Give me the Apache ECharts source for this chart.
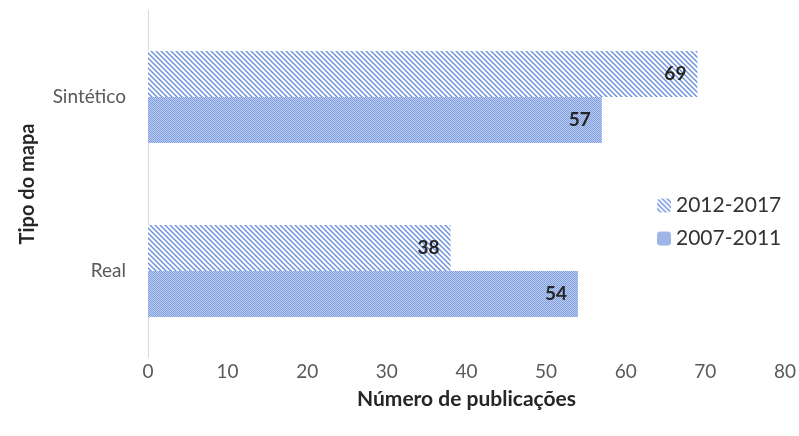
<!DOCTYPE html>
<html>
<head>
<meta charset="utf-8">
<script src="https://cdn.jsdelivr.net/npm/echarts@6/dist/echarts.min.js"></script>
<style>
  html, body { margin: 0; padding: 0; background: #fff; }
  #chart { width: 799px; height: 436px; }
</style>
</head>
<body>
<div id="chart"></div>
<script>
const categories = ['Real', 'Sintético']
const seriesNames = ['2012-2017', '2007-2011']
const values2012 = [38, 69]
const values2007 = [54, 57]
const xTicks = [0, 10, 20, 30, 40, 50, 60, 70, 80]

// hatched fill: diagonal stripes
const makeStripes = () => {
  const c = document.createElement('canvas')
  c.width = 5; c.height = 5
  const ctx = c.getContext('2d')
  ctx.fillStyle = '#ffffff'
  ctx.fillRect(0, 0, 5, 5)
  ctx.strokeStyle = '#6a8fdc'
  ctx.lineWidth = 1.4
  ctx.beginPath()
  ctx.moveTo(-1, -1); ctx.lineTo(6, 6)
  ctx.moveTo(-4, 1); ctx.lineTo(4, 9)
  ctx.moveTo(1, -4); ctx.lineTo(9, 4)
  ctx.stroke()
  return c
}

// dotted fill
const makeDots = () => {
  const c = document.createElement('canvas')
  c.width = 2; c.height = 2
  const ctx = c.getContext('2d')
  ctx.fillStyle = '#bccdf0'
  ctx.fillRect(0, 0, 2, 2)
  ctx.fillStyle = '#7f9edf'
  ctx.fillRect(0, 0, 1, 1)
  ctx.fillRect(1, 1, 1, 1)
  return c
}

const font = 'Lato, "Open Sans", sans-serif'
const chart = echarts.init(document.getElementById('chart'))

const labelOpt = {
  show: true,
  position: 'insideRight',
  distance: 11,
  color: '#262626',
  fontSize: 19,
  fontWeight: 'bold',
  fontFamily: font
}

chart.setOption({
  animation: false,
  textStyle: { fontFamily: font },
  grid: { left: 148, right: 14, top: 10, bottom: 78 },
  legend: {
    orient: 'vertical',
    left: 652,
    top: 190,
    itemWidth: 14,
    itemHeight: 14,
    itemGap: 12,
    data: seriesNames,
    textStyle: { fontSize: 21, color: '#333333', fontFamily: font }
  },
  xAxis: {
    type: 'value',
    min: xTicks[0],
    max: xTicks[xTicks.length - 1],
    interval: 10,
    name: 'Número de publicações',
    nameLocation: 'middle',
    nameGap: 31,
    nameTextStyle: { fontSize: 21, fontWeight: 'bold', color: '#262626' },
    axisLine: { show: false },
    axisTick: { show: false },
    splitLine: { show: false },
    axisLabel: { fontSize: 19, color: '#595959', margin: 4 }
  },
  yAxis: {
    type: 'category',
    data: categories,
    name: 'Tipo do mapa',
    nameLocation: 'middle',
    nameGap: 110,
    nameRotate: 90,
    nameTextStyle: { fontSize: 20, fontWeight: 'bold', color: '#262626' },
    axisLine: { show: true, lineStyle: { color: '#d9d9d9', width: 1 } },
    axisTick: { show: false },
    axisLabel: { fontSize: 19, color: '#595959', margin: 22 }
  },
  series: [
    {
      name: seriesNames[0],
      type: 'bar',
      data: values2012,
      barWidth: 46,
      barGap: '0%',
      itemStyle: { color: { image: makeStripes(), repeat: 'repeat' } },
      label: labelOpt
    },
    {
      name: seriesNames[1],
      type: 'bar',
      data: values2007,
      barWidth: 46,
      barGap: '0%',
      itemStyle: { color: { image: makeDots(), repeat: 'repeat' } },
      label: labelOpt
    }
  ]
})
</script>
</body>
</html>
